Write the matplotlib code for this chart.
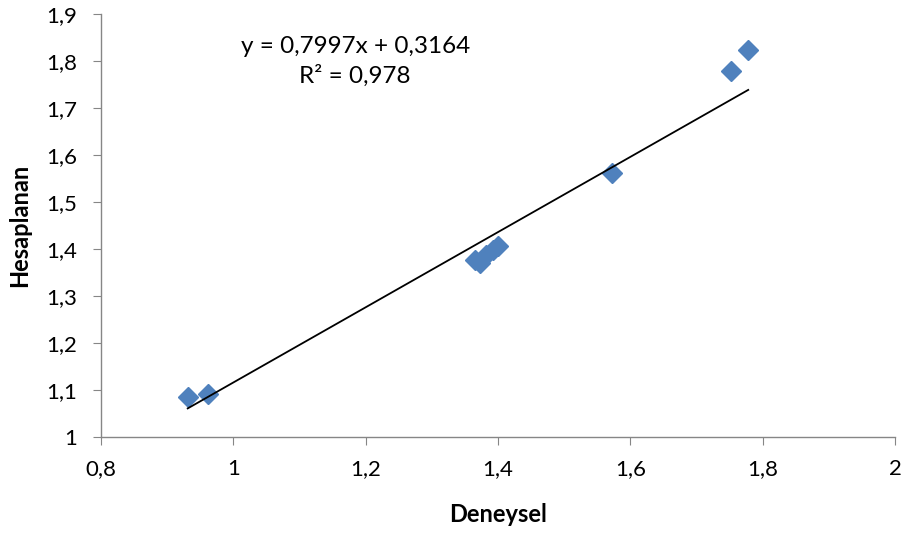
import matplotlib
matplotlib.use("Agg")
import matplotlib.pyplot as plt
import numpy as np
from matplotlib.ticker import FuncFormatter

plt.rcParams['font.family'] = ['Lato', 'DejaVu Sans']

deneysel = [0.931, 0.962, 1.365, 1.373, 1.382, 1.392, 1.400, 1.572, 1.752, 1.778]
hesaplanan = [1.085, 1.092, 1.377, 1.370, 1.387, 1.398, 1.406, 1.562, 1.779, 1.823]
slope = 0.7997
intercept = 0.3164
x_ticks = [0.8, 1.0, 1.2, 1.4, 1.6, 1.8, 2.0]
y_ticks = [1.0, 1.1, 1.2, 1.3, 1.4, 1.5, 1.6, 1.7, 1.8, 1.9]

fig = plt.figure(figsize=(9.06, 5.33), dpi=100)
ax = fig.add_axes([0.1115, 0.180, 0.8765, 0.794])

ax.plot(deneysel, hesaplanan, linestyle='none', marker='D', markersize=10,
        color='#4F81BD', markeredgecolor='#4F81BD', zorder=2)
xl = np.array([min(deneysel), max(deneysel)])
ax.plot(xl, slope * xl + intercept, color='black', linewidth=1.3, zorder=3)

ax.set_xlim(0.8, 2.0)
ax.set_ylim(1.0, 1.9)
ax.set_xticks(x_ticks)
ax.set_yticks(y_ticks)

def fmt(v, pos):
    s = f"{v:g}"
    return s.replace('.', ',')
ax.xaxis.set_major_formatter(FuncFormatter(fmt))
ax.yaxis.set_major_formatter(FuncFormatter(fmt))

for s in ['top', 'right']:
    ax.spines[s].set_visible(False)
for s in ['left', 'bottom']:
    ax.spines[s].set_color('#868686')
    ax.spines[s].set_linewidth(1.0)
ax.tick_params(axis='both', colors='#868686', labelcolor='black', labelsize=16,
               length=6, direction='out')
ax.tick_params(axis='y', pad=11)
ax.tick_params(axis='x', pad=10)

ax.set_xlabel('Deneysel', fontsize=17, fontweight='bold')
ax.set_ylabel('Hesaplanan', fontsize=17, fontweight='bold')
ax.xaxis.label.set_va('center')
ax.yaxis.label.set_va('center')
ax.xaxis.set_label_coords(0.5, -0.184)
ax.yaxis.set_label_coords(-0.102, 0.5)

ax.text(0.32, 0.887, 'y = 0,7997x + 0,3164\nR² = 0,978', transform=ax.transAxes,
        ha='center', va='center', fontsize=17.5, linespacing=1.45)

fig.savefig('out.png', dpi=100)
